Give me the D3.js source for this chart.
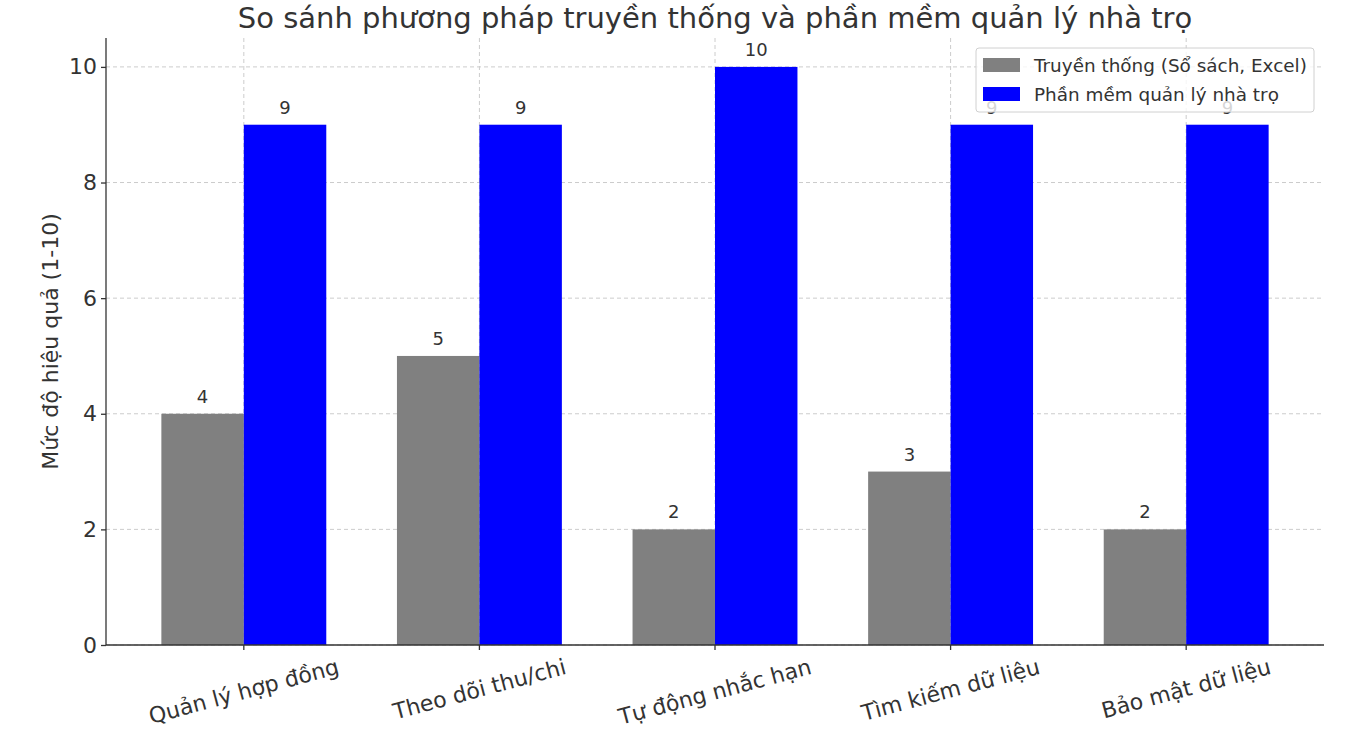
<!DOCTYPE html>
<html><head><meta charset="utf-8">
<script src="https://cdn.jsdelivr.net/npm/d3@7"></script>
<style>body{margin:0;background:#fff}svg{display:block}text{font-family:"DejaVu Sans",sans-serif;fill:#333}</style>
</head><body><svg id="c" width="1364" height="733"></svg>
<script>
const categories = ["Quản lý hợp đồng","Theo dõi thu/chi","Tự động nhắc hạn","Tìm kiếm dữ liệu","Bảo mật dữ liệu"];
const traditional = [4,5,2,3,2];
const software = [9,9,10,9,9];
const seriesNames = ["Truyền thống (Sổ sách, Excel)","Phần mềm quản lý nhà trọ"];
const seriesColors = ["#808080","#0000ff"];
const yTicks = [0,2,4,6,8,10];
const titleText = "So sánh phương pháp truyền thống và phần mềm quản lý nhà trọ";
const yLabel = "Mức độ hiệu quả (1-10)";

const svg = d3.select("#c");
const L=106, R=1324, T=38, B=645;
const barW = 0.35;
const x = d3.scaleLinear().domain([-0.585, categories.length-1+0.585]).range([L,R]);
const y = d3.scaleLinear().domain([0,10.5]).range([B,T]);

// grid
const g = svg.append("g");
g.selectAll(".gy").data(yTicks).join("line")
 .attr("x1",L).attr("x2",R).attr("y1",d=>y(d)).attr("y2",d=>y(d))
 .attr("stroke","#cccccc").attr("stroke-dasharray","4,3").attr("stroke-width",1);
g.selectAll(".gx").data(categories).join("line")
 .attr("x1",(d,i)=>x(i)).attr("x2",(d,i)=>x(i)).attr("y1",T).attr("y2",B)
 .attr("stroke","#cccccc").attr("stroke-dasharray","4,3").attr("stroke-width",1);

const series = [traditional, software];
series.forEach((vals,s)=>{
  svg.append("g").selectAll("rect").data(vals).join("rect")
   .attr("x",(d,i)=>x(i + (s===0?-barW:0)))
   .attr("width",x(barW)-x(0))
   .attr("y",d=>y(d)).attr("height",d=>y(0)-y(d))
   .attr("fill",seriesColors[s]);
  svg.append("g").selectAll("text").data(vals).join("text")
   .attr("x",(d,i)=>x(i + (s===0?-barW/2:barW/2)))
   .attr("y",d=>y(d)-11)
   .attr("text-anchor","middle").attr("font-size",18).text(d=>d);
});

// axes
const ya = svg.append("g").attr("transform",`translate(${L},0)`)
 .call(d3.axisLeft(y).tickValues(yTicks).tickSize(5).tickPadding(4));
ya.select(".domain").attr("stroke","#333").attr("stroke-width",1.3).attr("d",`M0,${T}V${B}`);
ya.selectAll(".tick line").attr("stroke","#333").attr("stroke-width",1.3);
ya.selectAll(".tick text").attr("font-size",22).attr("fill","#333").attr("font-family","DejaVu Sans");

svg.append("line").attr("x1",L).attr("x2",R).attr("y1",B).attr("y2",B).attr("stroke","#333").attr("stroke-width",1.5);
svg.selectAll(".xt").data(categories).join("line")
 .attr("x1",(d,i)=>x(i)).attr("x2",(d,i)=>x(i)).attr("y1",B).attr("y2",B+5).attr("stroke","#333").attr("stroke-width",1.3);

// x labels rotated 15deg, centered, bbox top at ~655
const xl = svg.append("g");
categories.forEach((c,i)=>{
  const t = xl.append("text").attr("font-size",22).attr("text-anchor","middle")
    .attr("dominant-baseline","central").text(c);
  const bb = t.node().getBBox();
  const a = 15*Math.PI/180;
  const h = bb.width*Math.sin(a) + bb.height*Math.cos(a);
  const cy = 654 + h/2;
  t.attr("transform",`translate(${x(i)},${cy}) rotate(-15)`);
});

// title
svg.append("text").attr("x",(L+R)/2).attr("y",28).attr("text-anchor","middle")
 .attr("font-size",29).text(titleText);
// y label
svg.append("text").attr("transform",`translate(58,${(T+B)/2}) rotate(-90)`)
 .attr("text-anchor","middle").attr("font-size",22).text(yLabel);

// legend
const lg = svg.append("g");
lg.append("rect").attr("x",976).attr("y",48).attr("width",338).attr("height",64).attr("rx",3)
 .attr("fill","#fff").attr("fill-opacity",0.8).attr("stroke","#d0d0d0");
seriesNames.forEach((n,i)=>{
  lg.append("rect").attr("x",983).attr("y",58+i*29).attr("width",37).attr("height",14).attr("fill",seriesColors[i]);
  lg.append("text").attr("x",1034).attr("y",65+i*29).attr("dominant-baseline","central")
   .attr("font-size",18.4).text(n);
});
</script></body></html>
